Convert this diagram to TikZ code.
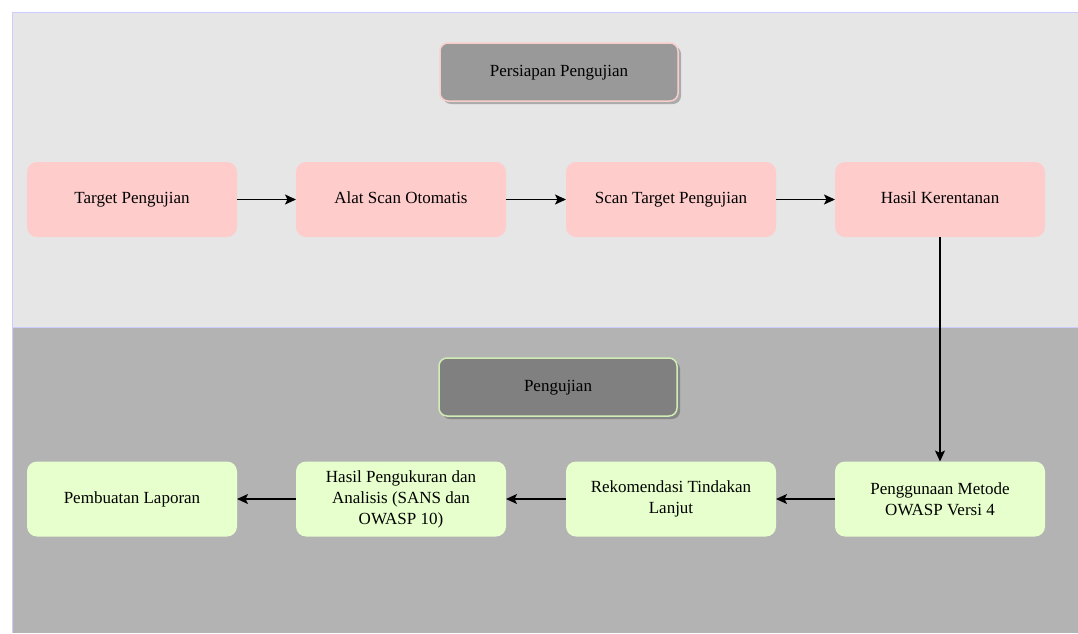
\documentclass[tikz,border=0pt]{standalone}
\usepackage{fontspec}
\setmainfont{Liberation Serif}
\usepackage{xcolor}
\usetikzlibrary{
	arrows.meta,
	shadows
}
\definecolor{laneTop}{HTML}{E6E6E6}
\definecolor{laneBot}{HTML}{B3B3B3}
\definecolor{laneLine}{HTML}{CCCCFF}
\definecolor{prepFill}{HTML}{FFCCCC}
\definecolor{testFill}{HTML}{E6FFCC}
\definecolor{headPrep}{HTML}{999999}
\definecolor{headTest}{HTML}{808080}
\definecolor{headPrepLine}{HTML}{F8CECC}
\definecolor{headTestLine}{HTML}{D0EDB5}

\begin{document}
\begin{tikzpicture}[x=1pt,y=-1pt,
		every node/.style={font=\fontsize{17}{21}\selectfont, text=black},
		prep/.style={rounded corners=10pt, fill=prepFill, minimum width=210pt, minimum height=75pt, inner sep=0pt, outer sep=0pt, align=center},
		test/.style={prep, fill=testFill},
		oneline/.style={text height=12pt, text depth=4pt},
		head/.style={rounded corners=8pt, line width=1.5pt, minimum width=238pt, minimum height=58pt, inner sep=0pt, oneline,
			drop shadow={shadow xshift=3pt, shadow yshift=-3pt, fill=black, opacity=0.25}},
		link/.style={-{Stealth[length=11pt,width=10pt,inset=2.5pt]}, line width=1.3pt, black}]
		\useasboundingbox (0,0) rectangle (1078,633);
		% lanes
		\fill[laneTop] (12,12) rectangle (1078,327);
		\fill[laneBot] (12,327) rectangle (1078,633);
		\draw[laneLine, line width=1pt] (1078,12) -- (12,12) -- (12,633);
		\draw[laneLine, line width=1pt] (12,327) -- (1078,327);
		% lane titles
		\node[head, fill=headPrep, draw=headPrepLine] (persiapan) at (559,72) {Persiapan Pengujian};
		\node[head, fill=headTest, draw=headTestLine] (pengujian) at (558,387) {Pengujian};
		% top row
		\node[prep, oneline] (target) at (132,199.5) {Target Pengujian};
		\node[prep, oneline] (alat) at (401,199.5) {Alat Scan Otomatis};
		\node[prep, oneline] (scan) at (671,199.5) {Scan Target Pengujian};
		\node[prep, oneline] (hasil) at (940,199.5) {Hasil Kerentanan};
		% bottom row
		\node[test] (owasp) at (940,499) {Penggunaan Metode\\OWASP Versi 4};
		\node[test] (rekom) at (671,499) {Rekomendasi Tindakan\\Lanjut};
		\node[test] (ukur) at (401,499) {Hasil Pengukuran dan\\Analisis (SANS dan\\OWASP 10)};
		\node[test, oneline] (laporan) at (132,499) {Pembuatan Laporan};
		% connectors
		\draw[link] (target) -- (alat);
		\draw[link] (alat) -- (scan);
		\draw[link] (scan) -- (hasil);
		\draw[link] (hasil) -- (owasp);
		\draw[link] (owasp) -- (rekom);
		\draw[link] (rekom) -- (ukur);
		\draw[link] (ukur) -- (laporan);
	\end{tikzpicture}
\end{document}
